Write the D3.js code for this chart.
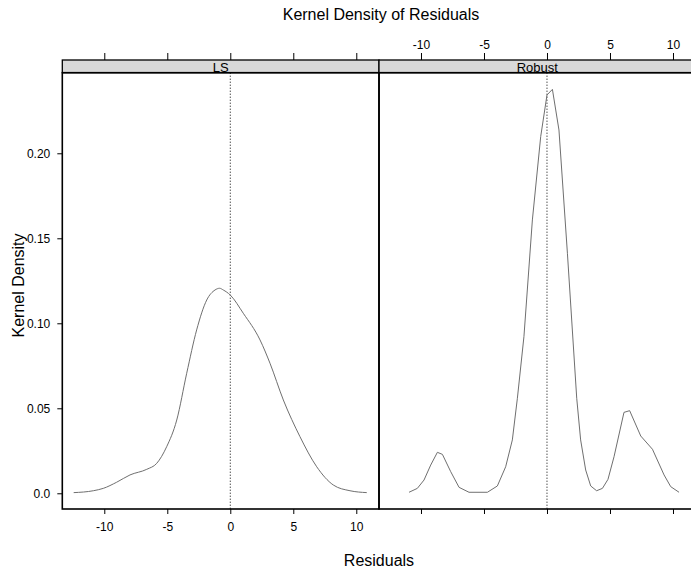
<!DOCTYPE html>
<html>
<head>
<meta charset="utf-8">
<script src="https://cdn.jsdelivr.net/npm/d3@7"></script>
<style>
  body { margin: 0; background: #fff; }
  text { font-family: "Liberation Sans", Arial, sans-serif; fill: #000; }
</style>
</head>
<body>
<div id="chart"></div>
<script>
"use strict";

// panel names, in drawing order
var panelNames = ["LS", "Robust"];

// LS residual density (x, density)
var lsX = [-12.43, -10.87, -10.08, -9.02, -7.96, -6.63, -5.84, -5.05, -4.25, -3.46,
           -2.67, -1.87, -1.21, -0.85, -0.56, 0.0, 1.03, 2.36, 3.15, 4.21,
           5.53, 6.86, 8.17, 9.5, 10.83];
var lsY = [0.0004, 0.0015, 0.0029, 0.0065, 0.0108, 0.0141, 0.0176, 0.0274, 0.0431, 0.0706,
           0.0961, 0.1137, 0.1196, 0.1206, 0.1196, 0.1166, 0.1059, 0.0902, 0.0765, 0.0549,
           0.0333, 0.0156, 0.0049, 0.0015, 0.0004];

// Robust residual density
var robX = [-10.95, -10.29, -9.76, -9.23, -8.70, -8.30, -7.64, -6.98, -6.19, -4.73,
            -3.94, -3.28, -2.75, -2.35, -1.83, -1.16, -0.5, 0.0, 0.43, 0.95,
            1.62, 2.36, 2.67, 3.07, 3.47, 3.94, 4.40, 4.84, 5.32, 6.11,
            6.56, 7.44, 8.37, 9.29, 9.82, 10.48];
var robY = [0.0006, 0.0029, 0.0078, 0.0166, 0.0241, 0.0229, 0.0127, 0.0035, 0.0006, 0.0006,
            0.0043, 0.0156, 0.0314, 0.0559, 0.0921, 0.1608, 0.2098, 0.2343, 0.2376, 0.2137,
            0.1412, 0.0559, 0.0314, 0.0137, 0.0043, 0.0015, 0.0029, 0.0082, 0.0215, 0.0476,
            0.0486, 0.0337, 0.0259, 0.0108, 0.0039, 0.0006];

// tick labels
var xTicks = [-10, -5, 0, 5, 10];
var xTickLabels = ["-10", "-5", "0", "5", "10"];
var yTicks = [0, 0.05, 0.10, 0.15, 0.20];
var yTickLabels = ["0.0", "0.05", "0.10", "0.15", "0.20"];

var width = 691, height = 569;
var left = 62.3, panelW = 316.7;
var stripTop = 60, stripBot = 72.7, panelBot = 509;

var svg = d3.select("#chart").append("svg")
    .attr("width", width)
    .attr("height", height);

var x = d3.scaleLinear().domain([-13.333, 11.802]).range([0, panelW]);
var y = d3.scaleLinear().domain([-0.00924, 0.2474]).range([panelBot, stripBot]);

var series = [
    { xs: lsX, ys: lsY, curve: d3.curveMonotoneX },
    { xs: robX, ys: robY, curve: d3.curveLinear }
];

function styleAxis(g) {
    g.select(".domain").remove();
    g.selectAll(".tick line").attr("stroke", "#000").attr("stroke-width", 1);
    g.selectAll(".tick text").style("font-size", "12px");
}

function xLabel(v, k) { return xTickLabels[k]; }
function noLabel() { return ""; }

panelNames.forEach(function(name, i) {
    var px = left + i * panelW;
    var p = svg.append("g").attr("transform", "translate(" + px + ",0)");
    var d = series[i];
    var pts = d.xs.map(function(v, k) { return [v, d.ys[k]]; });

    // dotted reference line at zero
    p.append("line")
        .attr("x1", x(0)).attr("x2", x(0))
        .attr("y1", stripBot).attr("y2", panelBot)
        .attr("stroke", "#000")
        .attr("stroke-width", 1)
        .attr("stroke-dasharray", "1,2");

    p.append("path")
        .datum(pts)
        .attr("fill", "none")
        .attr("stroke", "#6f6f6f")
        .attr("stroke-width", 1)
        .attr("d", d3.line()
            .x(function(v) { return x(v[0]); })
            .y(function(v) { return y(v[1]); })
            .curve(d.curve));

    // strip
    p.append("rect")
        .attr("x", 0).attr("y", stripTop)
        .attr("width", panelW).attr("height", stripBot - stripTop)
        .attr("fill", "#d9d9d9")
        .attr("stroke", "#000")
        .attr("stroke-width", 1.3);
    p.append("text")
        .attr("x", panelW / 2).attr("y", stripBot - 0.5)
        .attr("text-anchor", "middle")
        .style("font-size", "13px")
        .text(name);

    // panel border
    p.append("rect")
        .attr("x", 0).attr("y", stripBot)
        .attr("width", panelW).attr("height", panelBot - stripBot)
        .attr("fill", "none")
        .attr("stroke", "#000")
        .attr("stroke-width", 1.6);

    // x axes: labels alternate bottom (LS) and top (Robust)
    var bottom = d3.axisBottom(x).tickValues(xTicks).tickSize(5).tickPadding(8)
        .tickFormat(i === 0 ? xLabel : noLabel);
    p.append("g").attr("transform", "translate(0," + panelBot + ")")
        .call(bottom).call(styleAxis);

    var top = d3.axisTop(x).tickValues(xTicks).tickSize(7).tickPadding(4)
        .tickFormat(i === 1 ? xLabel : noLabel);
    p.append("g").attr("transform", "translate(0," + stripTop + ")")
        .call(top).call(styleAxis);

    if (i === 0) {
        var yAxis = d3.axisLeft(y).tickValues(yTicks).tickSize(5).tickPadding(7)
            .tickFormat(function(v, k) { return yTickLabels[k]; });
        p.append("g").call(yAxis).call(styleAxis);
    }
});

// labels
svg.append("text")
    .attr("x", 381).attr("y", 20)
    .attr("text-anchor", "middle")
    .style("font-size", "16px")
    .text("Kernel Density of Residuals");

svg.append("text")
    .attr("x", 379).attr("y", 566)
    .attr("text-anchor", "middle")
    .style("font-size", "16px")
    .text("Residuals");

svg.append("text")
    .attr("transform", "translate(24,285.5) rotate(-90)")
    .attr("text-anchor", "middle")
    .style("font-size", "16px")
    .text("Kernel Density");
</script>
</body>
</html>
